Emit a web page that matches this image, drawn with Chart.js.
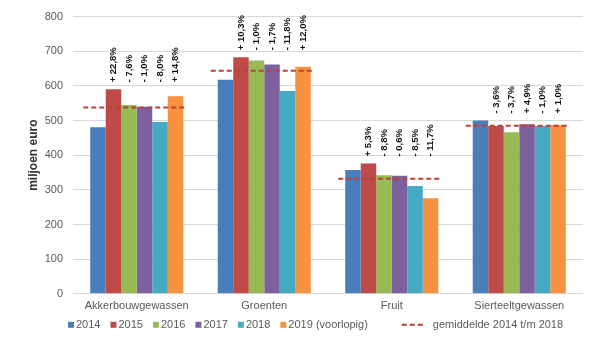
<!DOCTYPE html>
<html lang="nl">
<head>
<meta charset="utf-8">
<title>Productiewaarde tuinbouw en akkerbouw</title>
<script src="https://cdn.jsdelivr.net/npm/chart.js@4"></script>
<style>
  html, body { margin: 0; padding: 0; background: #ffffff; }
  #grafiek { display: block; }
</style>
</head>
<body>
<canvas id="grafiek" width="600" height="340"></canvas>
<script>
const categorieen = ['Akkerbouwgewassen', 'Groenten', 'Fruit', 'Sierteeltgewassen']
const jaren = ['2014', '2015', '2016', '2017', '2018', '2019 (voorlopig)']

// miljoen euro per jaar
const waarde2014 = [481, 618, 357, 500]
const waarde2015 = [590, 683, 376, 484]
const waarde2016 = [545, 673, 342, 466]
const waarde2017 = [540, 662, 341, 489]
const waarde2018 = [496, 585, 311, 484]
const waarde2019 = [570, 655, 276, 487]
const gemiddelde = [538, 644, 332, 485]
const gemiddeldeLabel = 'gemiddelde 2014 t/m 2018'

// verandering t.o.v. het jaar ervoor
const procent2015 = ['+ 22,8%', '+ 10,3%', '+ 5,3%', '- 3,6%']
const procent2016 = ['- 7,6%', '- 1,0%', '- 8,8%', '- 3,7%']
const procent2017 = ['- 1,0%', '- 1,7%', '- 0,6%', '+ 4,9%']
const procent2018 = ['- 8,0%', '- 11,8%', '- 8,5%', '- 1,0%']
const procent2019 = ['+ 14,8%', '+ 12,0%', '- 11,7%', '+ 1,0%']

const yTicks = [0, 100, 200, 300, 400, 500, 600, 700, 800]

const waarden = [waarde2014, waarde2015, waarde2016, waarde2017, waarde2018, waarde2019]
const procenten = [null, procent2015, procent2016, procent2017, procent2018, procent2019]
const kleuren = ['#4a7ebb', '#be4b48', '#98b954', '#7d60a0', '#46aac5', '#f69240']
const lijn = { kleur: '#b8403d', dikte: 2, streep: [5, 3] }
const tekstKleur = '#595959'

Chart.defaults.font.family = "'Liberation Sans', Arial, sans-serif"
Chart.defaults.font.size = 11
Chart.defaults.color = tekstKleur

const datasets = jaren.map((jaar, d) => ({
    label: jaar,
    data: waarden[d],
    backgroundColor: kleuren[d],
    procenten: procenten[d]
}))

// gemiddelde als streepjeslijn over de breedte van elke groep
const gemiddeldeLijn = {
    id: 'gemiddeldeLijn',
    afterDatasetsDraw(chart) {
        const ctx = chart.ctx
        const yAs = chart.scales.y
        const eerste = chart.getDatasetMeta(0).data
        const laatste = chart.getDatasetMeta(jaren.length - 1).data
        ctx.save()
        ctx.strokeStyle = lijn.kleur
        ctx.lineWidth = lijn.dikte
        ctx.setLineDash(lijn.streep)
        gemiddelde.forEach((g, i) => {
            const a = eerste[i], b = laatste[i]
            const y = yAs.getPixelForValue(g)
            ctx.beginPath()
            ctx.moveTo(a.x - a.width * 0.95, y)
            ctx.lineTo(b.x + b.width * 0.63, y)
            ctx.stroke()
        })
        ctx.restore()
    }
}

// percentages boven de staven, per groep op dezelfde hoogte
const procentLabels = {
    id: 'procentLabels',
    afterDatasetsDraw(chart) {
        const ctx = chart.ctx
        const yAs = chart.scales.y
        ctx.save()
        ctx.font = "bold 9.5px 'Liberation Sans', Arial, sans-serif"
        ctx.fillStyle = '#111111'
        ctx.textAlign = 'left'
        ctx.textBaseline = 'middle'
        categorieen.forEach((cat, i) => {
            const hoogste = Math.max(...waarden.map(w => w[i]))
            const y = yAs.getPixelForValue(hoogste) - 7
            chart.data.datasets.forEach((ds, d) => {
                if (!ds.procenten) return
                const staaf = chart.getDatasetMeta(d).data[i]
                ctx.save()
                ctx.translate(staaf.x, y)
                ctx.rotate(-Math.PI / 2)
                ctx.fillText(ds.procenten[i], 0, 0)
                ctx.restore()
            })
        })
        ctx.restore()
    }
}

// legenda: blokjes voor de jaren, streepjeslijn voor het gemiddelde
const legenda = {
    id: 'legenda',
    afterDraw(chart) {
        const ctx = chart.ctx
        const y = chart.chartArea.bottom + 31
        let x = chart.chartArea.left - 5
        ctx.save()
        ctx.font = "11px 'Liberation Sans', Arial, sans-serif"
        ctx.textBaseline = 'middle'
        chart.data.datasets.forEach(ds => {
            ctx.fillStyle = ds.backgroundColor
            ctx.fillRect(x, y - 3, 6, 6)
            x += 8
            ctx.fillStyle = tekstKleur
            ctx.fillText(ds.label, x, y)
            x += ctx.measureText(ds.label).width + 10
        })
        x += 24
        ctx.strokeStyle = lijn.kleur
        ctx.lineWidth = lijn.dikte
        ctx.setLineDash(lijn.streep)
        ctx.beginPath()
        ctx.moveTo(x, y)
        ctx.lineTo(x + 21, y)
        ctx.stroke()
        x += 31
        ctx.fillStyle = tekstKleur
        ctx.fillText(gemiddeldeLabel, x, y)
        ctx.restore()
    }
}

new Chart(document.getElementById('grafiek'), {
    type: 'bar',
    data: { labels: categorieen, datasets },
    plugins: [gemiddeldeLijn, procentLabels, legenda],
    options: {
        responsive: false,
        animation: false,
        layout: { padding: { top: 7, right: 17, bottom: 21, left: 22 } },
        datasets: {
            bar: { categoryPercentage: 0.73, barPercentage: 1.0, borderWidth: 0 }
        },
        plugins: {
            legend: { display: false },
            tooltip: { enabled: false }
        },
        scales: {
            x: {
                grid: { display: false, drawTicks: false },
                border: { display: false },
                ticks: { padding: 6, color: tekstKleur }
            },
            y: {
                min: 0,
                max: 800,
                afterBuildTicks: axis => { axis.ticks = yTicks.map(v => ({ value: v })) },
                afterFit: axis => { axis.width = 51 },
                grid: { color: '#d9d9d9', drawTicks: false },
                border: { display: false },
                ticks: { padding: 10, color: tekstKleur },
                title: {
                    display: true,
                    text: 'miljoen euro',
                    color: '#333333',
                    font: { size: 12, weight: 'bold' }
                }
            }
        }
    }
})
</script>
</body>
</html>
